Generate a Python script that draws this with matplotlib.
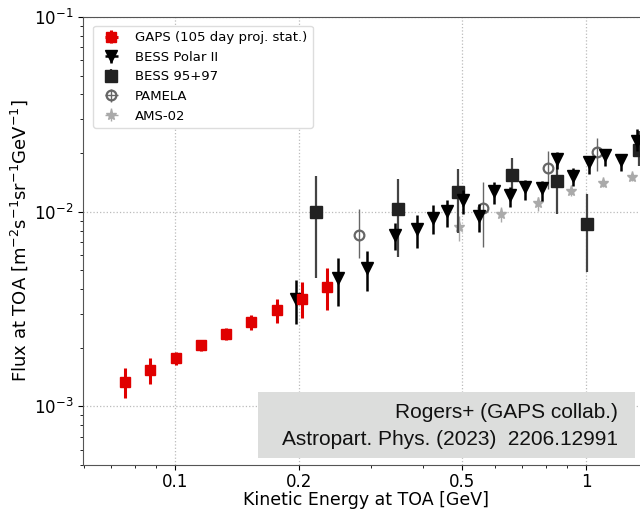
import numpy as np
import matplotlib.pyplot as plt
from matplotlib.patches import Rectangle
from matplotlib.ticker import FixedLocator, FixedFormatter, NullFormatter, LogLocator

# GAPS projected antiproton flux (105 day, stat. only)
gaps_e = [0.0756, 0.0869, 0.1004, 0.1155, 0.1328, 0.1533, 0.1768, 0.2037, 0.2348]
gaps_f = [1.336e-3, 1.542e-3, 1.782e-3, 2.056e-3, 2.367e-3, 2.717e-3, 3.133e-3, 3.582e-3, 4.11e-3]
gaps_hi = [1.578e-3, 1.775e-3, 1.914e-3, 2.198e-3, 2.541e-3, 2.942e-3, 3.571e-3, 4.33e-3, 5.14e-3]
gaps_lo = [1.107e-3, 1.306e-3, 1.641e-3, 1.927e-3, 2.204e-3, 2.483e-3, 2.68e-3, 2.84e-3, 3.11e-3]

# BESS Polar II
bp2_e = [0.197, 0.2488, 0.2937, 0.3436, 0.3886, 0.4236, 0.4582, 0.5028, 0.5482, 0.5973,
         0.6534, 0.7114, 0.78, 0.8501, 0.9281, 1.0186, 1.114, 1.217, 1.328]
bp2_f = [3.58e-3, 4.56e-3, 5.13e-3, 7.62e-3, 8.15e-3, 9.28e-3, 1.008e-2, 1.153e-2, 9.46e-3, 1.282e-2,
         1.219e-2, 1.333e-2, 1.318e-2, 1.866e-2, 1.531e-2, 1.807e-2, 1.956e-2, 1.844e-2, 2.317e-2]
bp2_hi = [4.47e-3, 5.78e-3, 6.25e-3, 8.71e-3, 9.62e-3, 1.082e-2, 1.153e-2, 1.293e-2, 1.095e-2, 1.414e-2,
          1.333e-2, 1.455e-2, 1.443e-2, 2.018e-2, 1.67e-2, 1.94e-2, 2.101e-2, 1.98e-2, 2.661e-2]
bp2_lo = [2.647e-3, 3.29e-3, 3.93e-3, 6.38e-3, 6.48e-3, 7.68e-3, 8.37e-3, 9.73e-3, 7.83e-3, 1.095e-2,
          1.052e-2, 1.153e-2, 1.139e-2, 1.658e-2, 1.349e-2, 1.562e-2, 1.709e-2, 1.625e-2, 2.059e-2]

# BESS 95+97
b97_e = [0.2199, 0.3494, 0.4891, 0.6595, 0.8477, 1.0073, 1.341]
b97_f = [1.0e-2, 1.033e-2, 1.267e-2, 1.541e-2, 1.443e-2, 8.65e-3, 2.077e-2]
b97_hi = [1.531e-2, 1.472e-2, 1.658e-2, 1.895e-2, 1.829e-2, 1.233e-2, 2.61e-2]
b97_lo = [4.59e-3, 5.87e-3, 7.80e-3, 1.282e-2, 9.73e-3, 4.93e-3, 1.72e-2]

# PAMELA
pam_e = [0.2799, 0.5607, 0.8082, 1.0654]
pam_f = [7.62e-3, 1.045e-2, 1.674e-2, 2.018e-2]
pam_hi = [1.033e-2, 1.414e-2, 2.059e-2, 2.393e-2]
pam_lo = [5.75e-3, 6.55e-3, 1.308e-2, 1.625e-2]

# AMS-02
ams_e = [0.4909, 0.6194, 0.7615, 0.9194, 1.098, 1.296]
ams_f = [8.37e-3, 9.76e-3, 1.103e-2, 1.275e-2, 1.401e-2, 1.500e-2]
ams_hi = [9.54e-3, 1.052e-2, 1.185e-2, 1.36e-2, 1.46e-2, 1.56e-2]
ams_lo = [7.10e-3, 8.88e-3, 1.012e-2, 1.21e-2, 1.34e-2, 1.44e-2]


def yerr(f, hi, lo):
    f = np.array(f)
    return [f - np.array(lo), np.array(hi) - f]


fig = plt.figure(figsize=(6.4, 5.11), dpi=100)
ax = fig.add_axes([0.1297, 0.09, 0.884, 0.8767])

ax.errorbar(gaps_e, gaps_f, yerr=yerr(gaps_f, gaps_hi, gaps_lo), xerr=np.zeros(len(gaps_e)),
            fmt='s', color='#e00000', ms=7.5, elinewidth=2.2, capsize=0, zorder=5,
            label='GAPS (105 day proj. stat.)')
ax.errorbar(bp2_e, bp2_f, yerr=yerr(bp2_f, bp2_hi, bp2_lo), xerr=np.zeros(len(bp2_e)),
            fmt='v', color='black', ms=8.5, elinewidth=1.8, capsize=0, zorder=4,
            label='BESS Polar II')
ax.errorbar(b97_e, b97_f, yerr=yerr(b97_f, b97_hi, b97_lo), xerr=np.zeros(len(b97_e)),
            fmt='s', color='#222222', ecolor='#444444', ms=8.5, elinewidth=1.6, capsize=0, zorder=3,
            label='BESS 95+97')
ax.errorbar(pam_e, pam_f, yerr=yerr(pam_f, pam_hi, pam_lo), xerr=np.zeros(len(pam_e)),
            fmt='o', color='#666666', mfc='none', mew=1.6, ms=7, elinewidth=1.0, capsize=0, zorder=3,
            label='PAMELA')
ax.errorbar(ams_e, ams_f, yerr=yerr(ams_f, ams_hi, ams_lo), xerr=np.zeros(len(ams_e)),
            fmt='*', color='#aaaaaa', ms=8, elinewidth=1.0, capsize=0, zorder=2,
            label='AMS-02')

ax.set_xscale('log')
ax.set_yscale('log')
ax.set_xlim(0.0597, 1.42)
ax.set_ylim(5.0e-4, 0.1)

ax.xaxis.set_major_locator(FixedLocator([0.1, 0.2, 0.5, 1]))
ax.xaxis.set_major_formatter(FixedFormatter(['0.1', '0.2', '0.5', '1']))
ax.xaxis.set_minor_locator(LogLocator(base=10, subs=np.arange(1, 10)))
ax.xaxis.set_minor_formatter(NullFormatter())
ax.tick_params(axis='both', which='major', labelsize=12)
ax.tick_params(axis='x', which='major', pad=2)

ax.grid(True, which='major', linestyle=':', color='#bbbbbb', linewidth=0.9)
for s in ax.spines.values():
    s.set_color('#555555')

ax.set_xlabel('Kinetic Energy at TOA [GeV]', fontsize=12.5, labelpad=0)
ax.set_ylabel(r'Flux at TOA [m$^{-2}$s$^{-1}$sr$^{-1}$GeV$^{-1}$]', fontsize=13, labelpad=3)

leg = ax.legend(loc='upper left', bbox_to_anchor=(0.006, 0.995), fontsize=9.5,
                frameon=True, framealpha=1, edgecolor='#dddddd', handletextpad=0.8)

# citation box
fig.patches.append(Rectangle((258 / 640, 53 / 511), 377 / 640, 66 / 511,
                             transform=fig.transFigure, facecolor='#dcdddc',
                             edgecolor='none', zorder=10))
fig.text(618 / 640, 93 / 511, 'Rogers+ (GAPS collab.)', ha='right', va='baseline',
         fontsize=15, family='Liberation Sans', color='#111111', zorder=11)
fig.text(618 / 640, 66 / 511, 'Astropart. Phys. (2023)  2206.12991', ha='right', va='baseline',
         fontsize=15, family='Liberation Sans', color='#111111', zorder=11)

fig.savefig('out.png', dpi=100)
